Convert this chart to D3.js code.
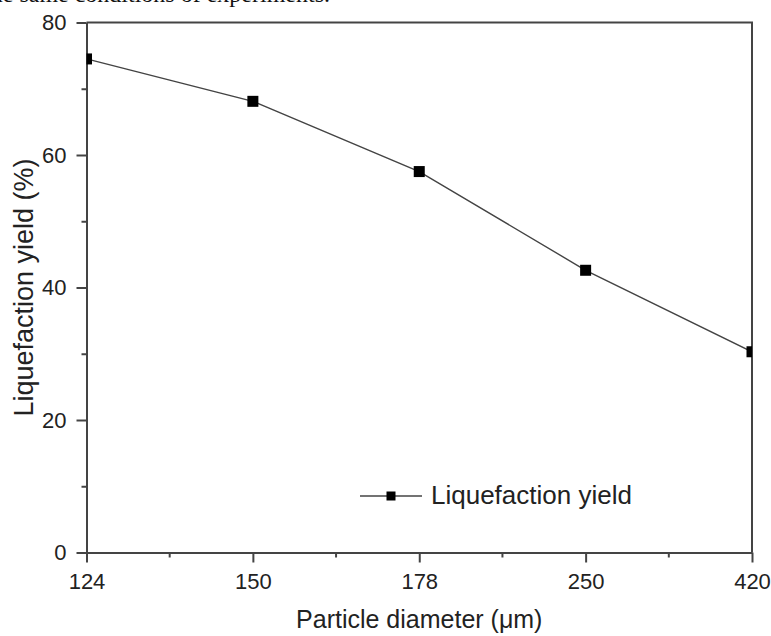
<!DOCTYPE html>
<html>
<head>
<meta charset="utf-8">
<script src="https://cdn.jsdelivr.net/npm/d3@7"></script>
<style>
  body { margin: 0; background: #fff; }
  svg { display: block; font-family: "Liberation Sans", Arial, sans-serif; }
  .axis path, .axis line { stroke: #444; stroke-width: 2; }
  .axis text { fill: #222; font-size: 22px; }
</style>
</head>
<body>
<div id="chart"></div>
<script>
const diameters = ["124", "150", "178", "250", "420"];
const yieldValues = [74.5, 68.1, 57.5, 42.6, 30.3];
const yTicks = [0, 20, 40, 60, 80];
const yMinorTicks = [10, 30, 50, 70];
const seriesName = "Liquefaction yield";

const width = 771, height = 636;
const margin = { top: 22.5, left: 86.5, right: 19, bottom: 83.5 };
const w = width - margin.left - margin.right;
const h = height - margin.top - margin.bottom;

const svg = d3.select("#chart").append("svg")
  .attr("width", width)
  .attr("height", height);

// Cut-off caption line at the very top (only its lower edge shows)
svg.append("text")
  .attr("x", 330)
  .attr("y", 2)
  .attr("text-anchor", "end")
  .style("font-family", "'Liberation Serif', 'Times New Roman', serif")
  .style("font-size", "24px")
  .attr("fill", "#111")
  .text("under the same conditions of experiments.");

const x = d3.scalePoint().domain(diameters).range([0, w]).padding(0);
const y = d3.scaleLinear().domain([0, 80]).range([h, 0]);

const g = svg.append("g")
  .attr("transform", "translate(" + margin.left + "," + margin.top + ")");

g.append("clipPath")
  .attr("id", "plot-clip")
  .append("rect")
  .attr("width", w)
  .attr("height", h);

// Axes

g.append("g").attr("class", "axis")
  .call(d3.axisLeft(y).tickValues(yMinorTicks).tickSize(5).tickFormat(""))
  .select(".domain").remove();

g.append("g").attr("class", "axis")
  .call(d3.axisLeft(y).tickValues(yTicks).tickSize(10).tickPadding(10).tickSizeOuter(0));

const xMinor = d3.pairs(diameters).map(p => (x(p[0]) + x(p[1])) / 2);
g.append("g").attr("class", "minor-x")
  .selectAll("line")
  .data(xMinor)
  .enter()
  .append("line")
  .attr("x1", d => d)
  .attr("x2", d => d)
  .attr("y1", h)
  .attr("y2", h + 5)
  .attr("stroke", "#444")
  .attr("stroke-width", 2);

g.append("g").attr("class", "axis")
  .attr("transform", "translate(0," + h + ")")
  .call(d3.axisBottom(x).tickSize(10).tickPadding(11).tickSizeOuter(0));

// frame top and right
g.append("path")
  .attr("d", "M0,0H" + w + "V" + h)
  .attr("fill", "none")
  .attr("stroke", "#444")
  .attr("stroke-width", 2);

// Line and markers

const points = diameters.map((d, i) => [x(d), y(yieldValues[i])]);

const plot = g.append("g").attr("clip-path", "url(#plot-clip)");

plot.append("path")
  .datum(points)
  .attr("d", d3.line())
  .attr("fill", "none")
  .attr("stroke", "#444")
  .attr("stroke-width", 1.4);

const ms = 11;
plot.selectAll(".marker")
  .data(points)
  .enter()
  .append("rect")
  .attr("class", "marker")
  .attr("x", d => d[0] - ms / 2)
  .attr("y", d => d[1] - ms / 2)
  .attr("width", ms)
  .attr("height", ms)
  .attr("fill", "#000");

// Legend

const legend = svg.append("g")
  .attr("transform", "translate(360,496)");

legend.append("line")
  .attr("x1", 0).attr("x2", 62)
  .attr("stroke", "#444")
  .attr("stroke-width", 1.4);

legend.append("rect")
  .attr("x", 31 - 4.5).attr("y", -4.5)
  .attr("width", 9).attr("height", 9)
  .attr("fill", "#000");

legend.append("text")
  .attr("x", 71)
  .attr("y", 8)
  .style("font-size", "26px")
  .attr("fill", "#222")
  .text(seriesName);

// Axis titles

svg.append("text")
  .attr("transform", "translate(33," + (margin.top + h / 2) + ") rotate(-90)")
  .attr("text-anchor", "middle")
  .style("font-size", "27px")
  .attr("fill", "#222")
  .text("Liquefaction yield (%)");

svg.append("text")
  .attr("x", margin.left + w / 2)
  .attr("y", 628)
  .attr("text-anchor", "middle")
  .style("font-size", "25px")
  .attr("fill", "#222")
  .text("Particle diameter (\u03bcm)");
</script>
</body>
</html>
